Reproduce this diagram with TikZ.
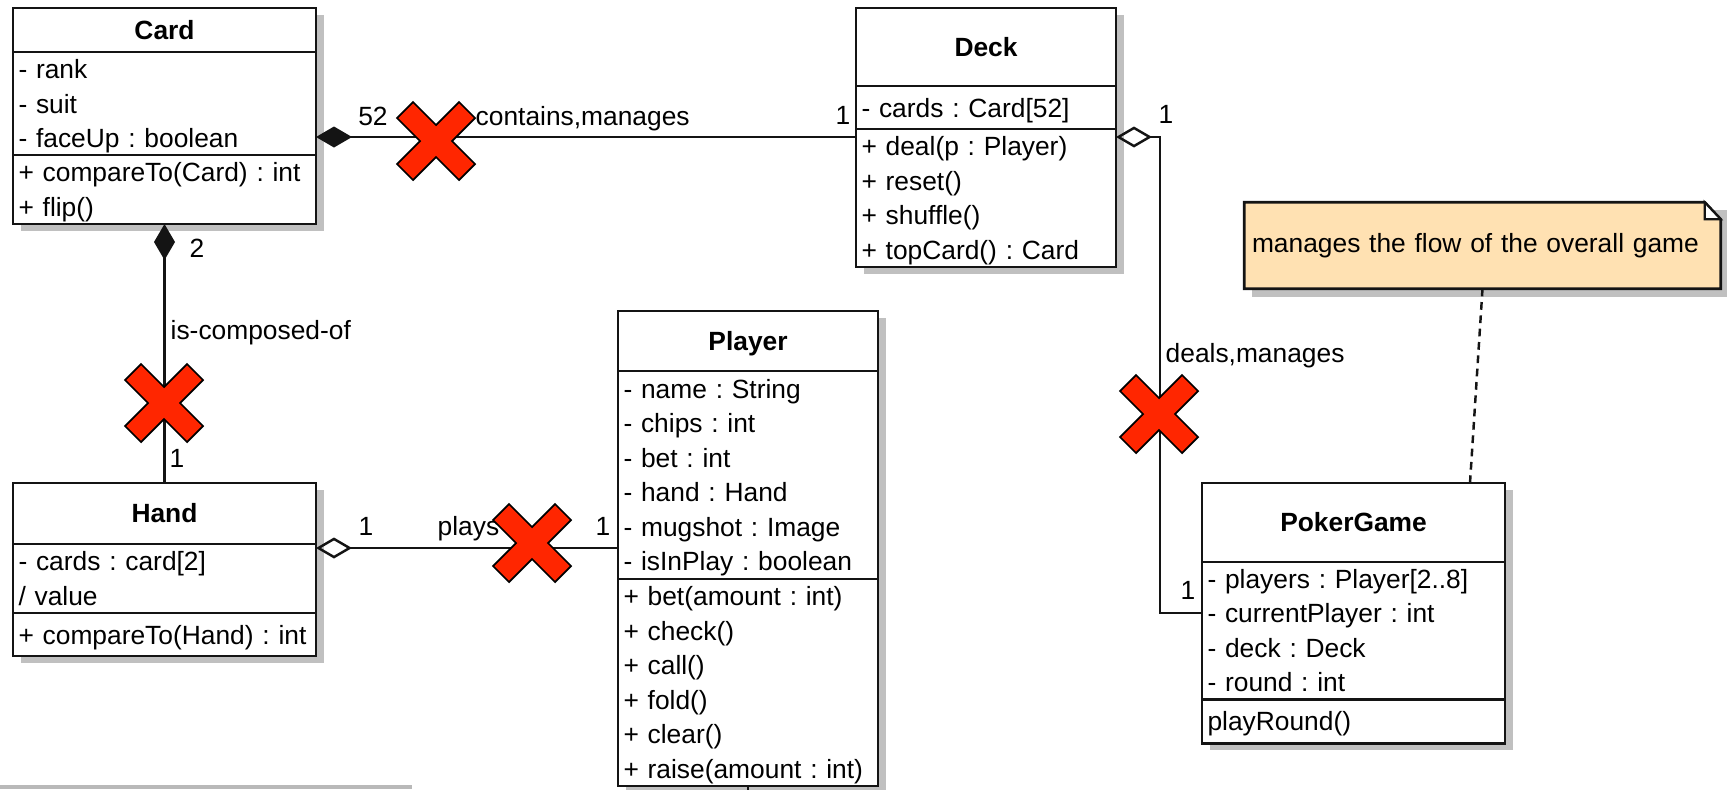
\documentclass[tikz,border=0pt]{standalone}
\usepackage{fontspec}
\setmainfont{Liberation Sans}
\frenchspacing
\usetikzlibrary{positioning,arrows.meta,backgrounds}
\definecolor{ink}{RGB}{20,20,20}
\definecolor{notefill}{RGB}{255,225,178}
\definecolor{shadowgray}{RGB}{192,192,192}
\definecolor{crossred}{RGB}{255,38,0}

\begin{document}
\begin{tikzpicture}[
  x=0.1mm, y=-0.1mm,
  font=\fontsize{7.5}{9.81}\selectfont,
  cls/.style={draw=ink, fill=white, line width=0.8pt, outer sep=0pt, inner sep=0pt,
              text height=1.86mm, text depth=0pt, font=\fontsize{7.5}{9.81}\selectfont\bfseries},
  part/.style={draw=ink, fill=white, line width=0.8pt, outer sep=0pt, inner xsep=0.55mm,
               inner ysep=0pt, align=left,
               execute at begin node={\rule{0pt}{2.65mm}},
               execute at end node={\rule[-0.75mm]{0pt}{0.75mm}}},
  cw/.style={text width=29.2mm},
  nw/.style={text width=24.9mm},
  memo/.style={inner xsep=0.7mm, inner ysep=0pt, text width=46.1mm, minimum height=8.5mm,
               text height=1.9mm, text depth=0.5mm, align=left},
  lbl/.style={inner sep=0pt},
  comp/.style={line width=0.7pt, draw=ink, {Diamond[length=3.6mm,width=2.1mm]}-},
  agg/.style={line width=0.7pt, draw=ink, {Diamond[open,length=3.6mm,width=2.1mm]}-},
  tie/.style={line width=0.7pt, draw=ink, dash pattern=on 2.2pt off 1.6pt},
  xmark/.pic={\draw[fill=crossred, draw=black, line width=0.5pt]
    (0,-16) -- (23,-39) -- (39,-23) -- (16,0) -- (39,23) -- (23,39) -- (0,16)
    -- (-23,39) -- (-39,23) -- (-16,0) -- (-39,-23) -- (-23,-39) -- cycle;},
]
\useasboundingbox (0,0) rectangle (1727,790);

% classes
\node[cls, minimum width=30.3mm, minimum height=4.4mm] (card) at (164.5,30) {Card};
\node[part, cw, minimum height=10.3mm, below=0pt of card] (cardA) {- rank\\- suit\\- faceUp : boolean};
\node[part, cw, minimum height=6.9mm, below=0pt of cardA] (cardM) {+ compareTo(Card) : int\\+ flip()};

\node[cls, minimum width=26mm, minimum height=7.8mm] (deck) at (986,47) {Deck};
\node[part, nw, minimum height=4.3mm, below=0pt of deck] (deckA) {- cards : Card[52]};
\node[part, nw, minimum height=13.8mm, below=0pt of deckA] (deckM) {+ deal(p : Player)\\+ reset()\\+ shuffle()\\+ topCard() : Card};

\node[cls, minimum width=26mm, minimum height=6mm] (player) at (748,341) {Player};
\node[part, nw, minimum height=20.8mm, below=0pt of player] (playerA) {- name : String\\- chips : int\\- bet : int\\- hand : Hand\\- mugshot : Image\\- isInPlay : boolean};
\node[part, nw, minimum height=20.7mm, below=0pt of playerA] (playerM) {+ bet(amount : int)\\+ check()\\+ call()\\+ fold()\\+ clear()\\+ raise(amount : int)};

\node[cls, minimum width=30.3mm, minimum height=6.1mm] (hand) at (164.5,513.5) {Hand};
\node[part, cw, minimum height=6.9mm, below=0pt of hand] (handA) {- cards : card[2]\\/ value};
\node[part, cw, minimum height=4.3mm, below=0pt of handA] (handM) {+ compareTo(Hand) : int};

\node[cls, minimum width=30.3mm, minimum height=7.9mm] (game) at (1353.5,522.5) {PokerGame};
\node[part, cw, minimum height=13.7mm, below=0pt of game] (gameA) {- players : Player[2..8]\\- currentPlayer : int\\- deck : Deck\\- round : int};
\node[part, cw, minimum height=4.4mm, below=0pt of gameA] (gameM) {playRound()};

\node[memo] (flow) at (1482.5,245.5) {manages the flow of the overall game};

% shadows and note sheet
\begin{scope}[on background layer]
  \fill[shadowgray] ([shift={(0.8mm,-0.7mm)}]card.north west) rectangle ([shift={(0.8mm,-0.7mm)}]cardM.south east);
  \fill[shadowgray] ([shift={(0.8mm,-0.7mm)}]deck.north west) rectangle ([shift={(0.8mm,-0.7mm)}]deckM.south east);
  \fill[shadowgray] ([shift={(0.8mm,-0.7mm)}]player.north west) rectangle ([shift={(0.8mm,-0.7mm)}]playerM.south east);
  \fill[shadowgray] ([shift={(0.8mm,-0.7mm)}]hand.north west) rectangle ([shift={(0.8mm,-0.7mm)}]handM.south east);
  \fill[shadowgray] ([shift={(0.8mm,-0.7mm)}]game.north west) rectangle ([shift={(0.8mm,-0.7mm)}]gameM.south east);
  \fill[shadowgray] ([shift={(0.8mm,-0.8mm)}]flow.north west) rectangle ([shift={(0.8mm,-0.8mm)}]flow.south east);
  \draw[fill=notefill, draw=ink, line width=0.8pt] (flow.north west) -- ([xshift=-1.6mm]flow.north east)
    -- ([yshift=-1.7mm]flow.north east) -- (flow.south east) -- (flow.south west) -- cycle;
  \draw[fill=white, draw=ink, line width=0.6pt] ([xshift=-1.6mm]flow.north east)
    -- ([yshift=-1.7mm]flow.north east) -| cycle;
\end{scope}

% connectors
\coordinate (cardDeck) at ([yshift=1.8mm]cardA.south east);
\coordinate (handPlayer) at ([yshift=-0.4mm]handA.north east);
\coordinate (deckGame) at ([yshift=-0.8mm]deckM.north east);
\coordinate (gameIn) at ([yshift=-5.1mm]gameA.north west);

\draw[comp] (cardDeck) -- (cardDeck -| deckM.west);
\draw[comp] (cardM.south) -- (hand.north);
\draw[agg] (handPlayer) -- (handPlayer -| playerA.west);
\draw[agg] (deckGame) -- ++(44,0) |- (gameIn);
\draw[tie] (flow.south) -- ([xshift=11.65mm]game.north);
\draw[line width=0.7pt, draw=ink] (playerM.south) -- ++(0,6);
\draw[line width=1pt, draw=gray!55] (0,787) -- (412,787);

\node[lbl, anchor=base] (m52) at (373,125) {52};
\node[lbl, anchor=base west] (cm) at (475,125) {contains,manages};
\node[lbl, anchor=base] (m1a) at (843,124) {1};
\node[lbl, anchor=base] (m1b) at (1166,123) {1};
\node[lbl, anchor=base] (m2) at (197,257) {2};
\node[lbl, anchor=base west] (icf) at (170,339) {is-composed-of};
\node[lbl, anchor=base] (m1c) at (177,467) {1};
\node[lbl, anchor=base] (m1d) at (366,535) {1};
\node[lbl, anchor=base west] (pl) at (437,535) {plays};
\node[lbl, anchor=base] (m1e) at (603,535) {1};
\node[lbl, anchor=base west] (dm) at (1165,362) {deals,manages};
\node[lbl, anchor=base] (m1f) at (1188,599) {1};

% red crosses
\pic at (436,141) {xmark};
\pic at (164,403) {xmark};
\pic at (532,543) {xmark};
\pic at (1159,414) {xmark};

\end{tikzpicture}
\end{document}
